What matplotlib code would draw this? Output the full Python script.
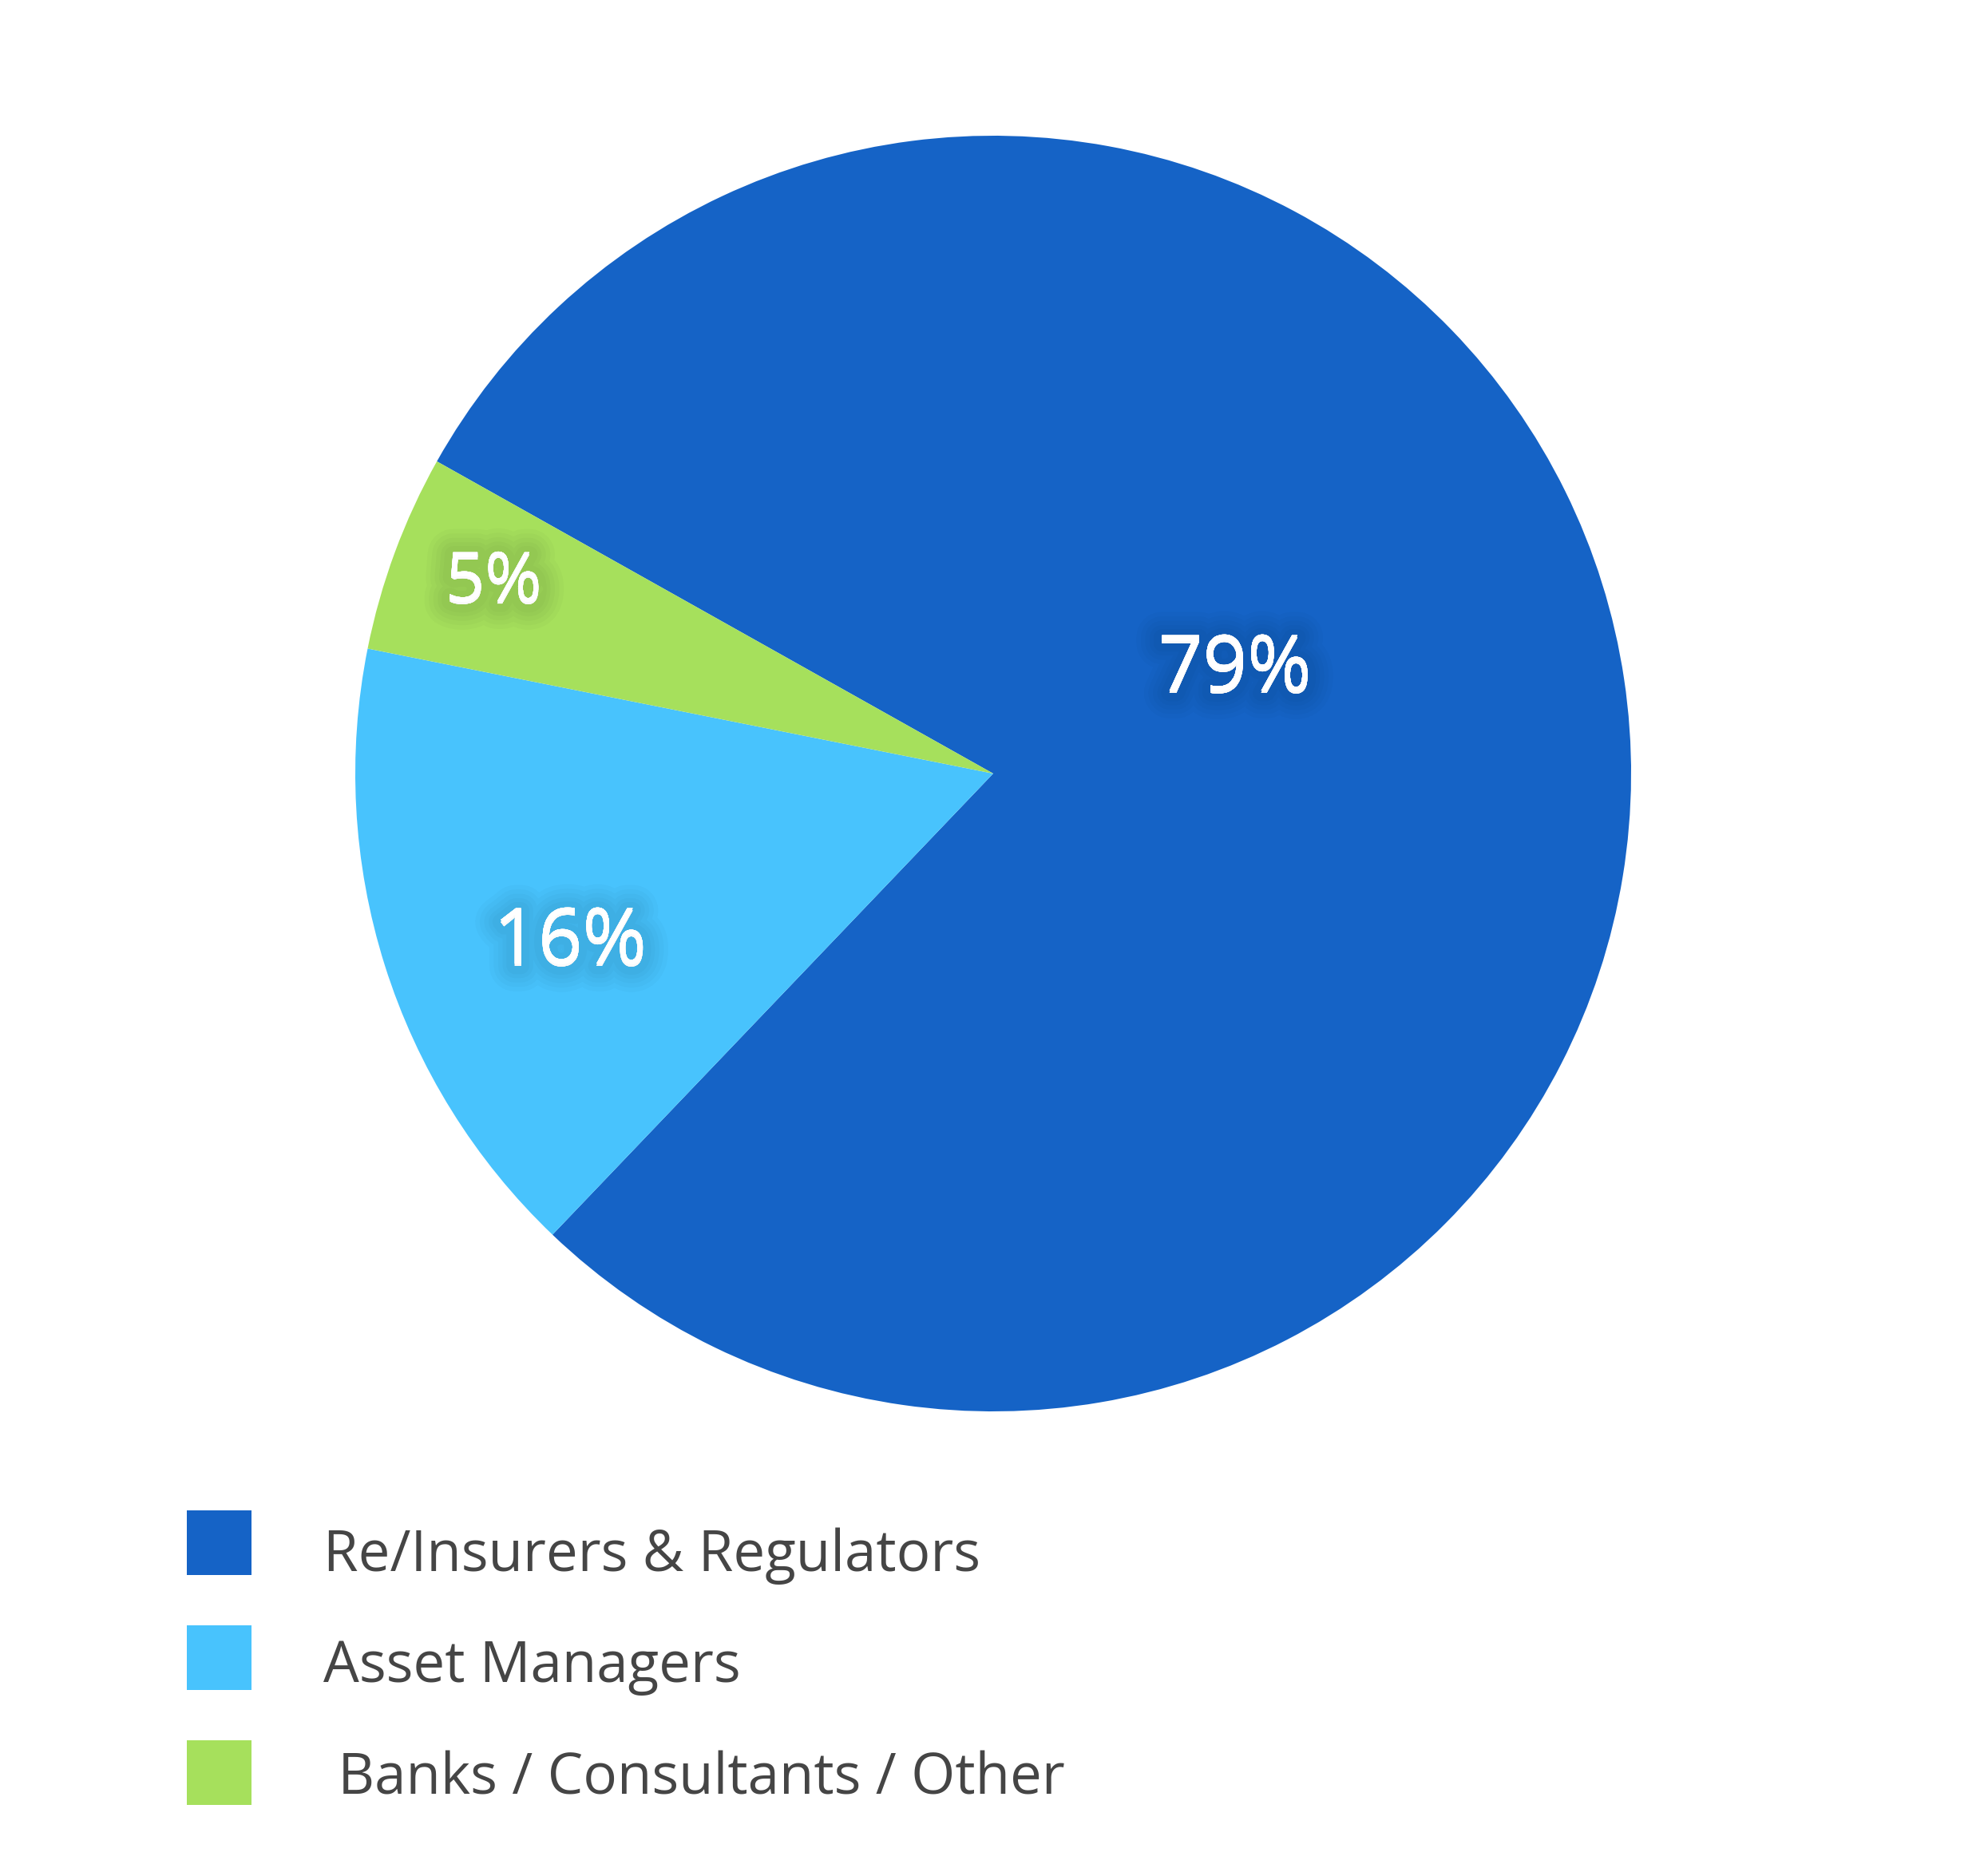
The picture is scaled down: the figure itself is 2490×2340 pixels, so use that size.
import matplotlib as mpl
from matplotlib import pyplot as plt
from matplotlib import patheffects as pe
from matplotlib.patches import Rectangle

# %% data
groups = ['Re/Insurers & Regulators', 'Asset Managers', ' Banks / Consultants / Other']
shares = [79, 16, 5]
share_labels = ['79%', '16%', '5%']
colors = ['#1563C6', '#48C3FD', '#A6E05C']

# %% figure
W, H = 2490, 2340
fig = plt.figure(figsize=(W / 100, H / 100), dpi=100)
plt.rcParams['font.family'] = ['Open Sans', 'DejaVu Sans']

cx, cy, R = 1244, 969, 799
ax = fig.add_axes([(cx - R) / W, (H - cy - R) / H, 2 * R / W, 2 * R / H])
ax.pie(shares, colors=colors, startangle=150.7, counterclock=False,
       radius=1, wedgeprops=dict(linewidth=0))
ax.set_xlim(-1, 1)
ax.set_ylim(-1, 1)
ax.set_aspect('equal')
ax.axis('off')

# label positions (data units, baseline)
label_pos = [(0.379, 0.130), (-0.663, -0.298), (-0.783, 0.270)]
label_size = [70, 70, 62]
# soft dark glow behind the white labels
glow = [pe.withStroke(linewidth=lw, foreground=(0, 0, 0, 0.02), offset=(0, -2))
        for lw in (46, 38, 30, 22, 15)] + [pe.Normal()]
for txt, (x, y), s in zip(share_labels, label_pos, label_size):
    ax.text(x, y, txt, ha='center', va='baseline', fontsize=s, color='white',
            path_effects=glow)

# legend, drawn by hand
sq_top = [1892, 2036, 2180]
baselines = [1968, 2107, 2247]
for g, c, t, b in zip(groups, colors, sq_top, baselines):
    fig.add_artist(Rectangle((234 / W, (H - t - 81) / H), 81 / W, 81 / H,
                             transform=fig.transFigure, color=c, lw=0))
    fig.text(405 / W, (H - b) / H, g, ha='left', va='baseline', fontsize=51,
             color='#454545')

plt.savefig('out.png', dpi=100)
